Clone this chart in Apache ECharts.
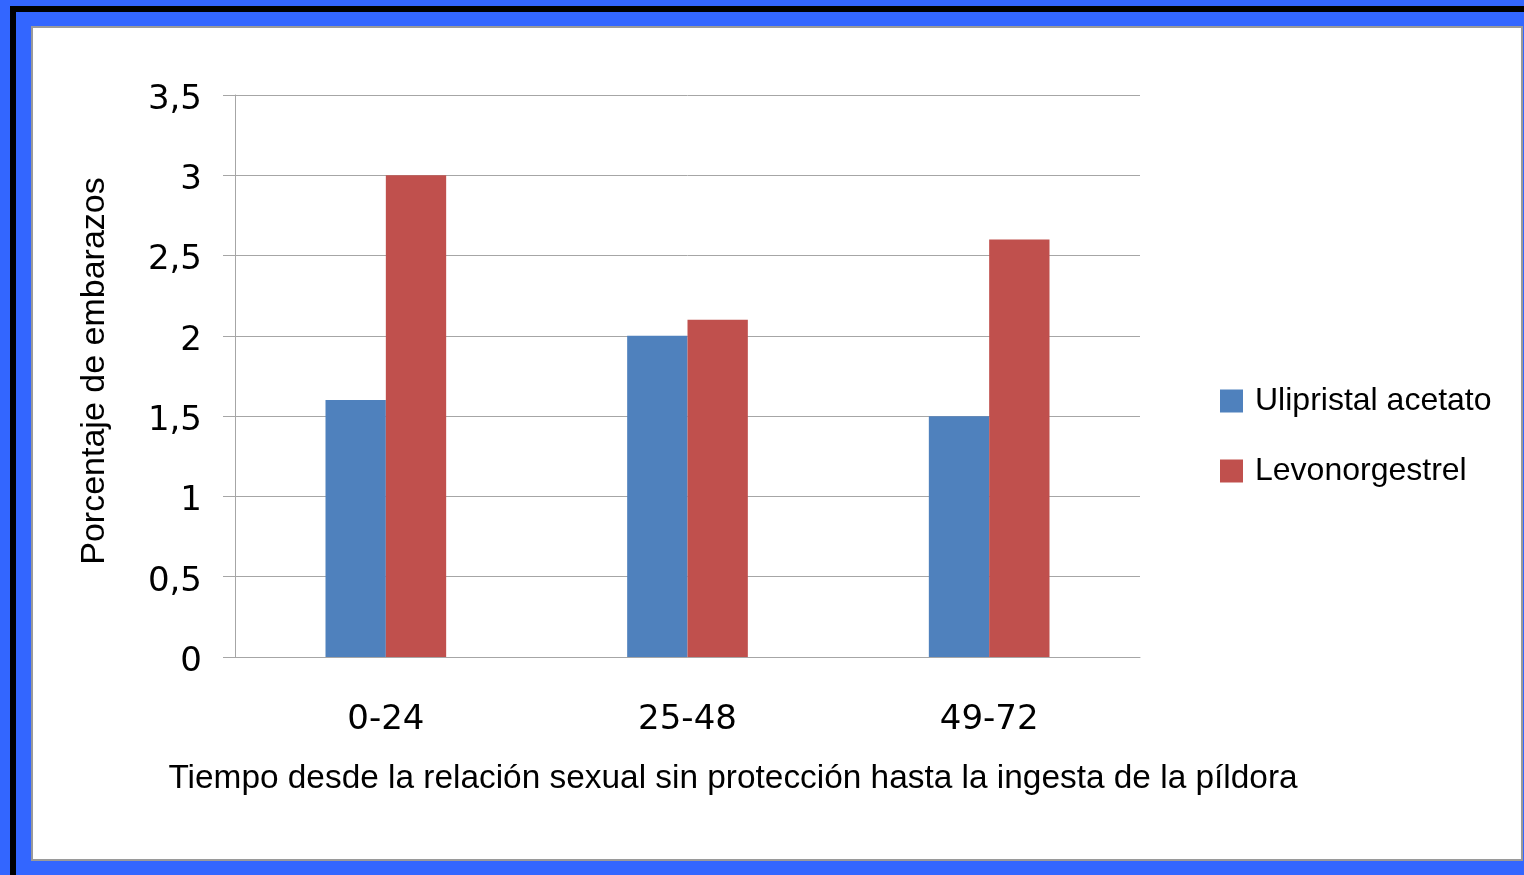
<!DOCTYPE html>
<html>
<head>
<meta charset="utf-8">
<script src="https://cdn.jsdelivr.net/npm/echarts@6/dist/echarts.min.js"></script>
<style>
html,body{margin:0;padding:0;background:#3366FF;}
#c{width:1524px;height:875px;}
</style>
</head>
<body>
<div id="c"></div>
<script>
const categories = ['0-24', '25-48', '49-72'];
const seriesNames = ['Ulipristal acetato', 'Levonorgestrel'];
const ulipristal = [1.6, 2.0, 1.5];
const levonorgestrel = [3.0, 2.1, 2.6];
const yTicks = [0, 0.5, 1, 1.5, 2, 2.5, 3, 3.5];
const xTitle = 'Tiempo desde la relación sexual sin protección hasta la ingesta de la píldora';
const yTitle = 'Porcentaje de embarazos';

const chart = echarts.init(document.getElementById('c'), null, {renderer: 'canvas'});
const grey = '#A6A6A6';
chart.setOption({
  backgroundColor: '#3366FF',
  animation: false,
  graphic: [
    {type: 'rect', z: -10, shape: {x: 10, y: 6, width: 1514, height: 6}, style: {fill: '#000'}, silent: true},
    {type: 'rect', z: -10, shape: {x: 10, y: 6, width: 6, height: 869}, style: {fill: '#000'}, silent: true},
    {type: 'rect', z: -9, shape: {x: 32, y: 27, width: 1490, height: 833}, style: {fill: '#fff', stroke: '#9a9a9a', lineWidth: 2}, silent: true},
    {type: 'text', z: 10, x: 733, y: 779, style: {text: xTitle, font: '33.4px "Liberation Sans", Arial, sans-serif', fill: '#000', align: 'center', verticalAlign: 'middle'}},
    {type: 'text', z: 10, x: 95, y: 371, rotation: Math.PI / 2, style: {text: yTitle, font: '34px "Liberation Sans", Arial, sans-serif', fill: '#000', align: 'center', verticalAlign: 'middle'}}
  ],
  grid: {left: 235, right: 384, top: 95, bottom: 218, containLabel: false},
  legend: {
    orient: 'vertical', left: 1215, top: 380,
    itemWidth: 23, itemHeight: 23, itemGap: 38,
    icon: 'rect',
    textStyle: {fontFamily: '"Liberation Sans", Arial, sans-serif', fontSize: 32, color: '#000', padding: [0, 0, 0, 7]},
    data: seriesNames
  },
  xAxis: {
    type: 'category', data: categories,
    axisLine: {show: true, lineStyle: {color: grey, width: 1}},
    axisTick: {show: false},
    axisLabel: {margin: 46, fontFamily: '"DejaVu Sans", sans-serif', fontSize: 34, color: '#000'}
  },
  yAxis: {
    type: 'value', min: 0, max: 3.5, interval: 0.5,
    axisLine: {show: true, lineStyle: {color: grey, width: 1}},
    axisTick: {show: true, length: 12, lineStyle: {color: grey}},
    splitLine: {show: true, lineStyle: {color: grey, width: 1}},
    axisLabel: {
      margin: 33, color: '#000',
      formatter: v => yTicks.indexOf(v) >= 0 ? '{a|' + String(v).replace('.', ',') + '}' : '',
      rich: {a: {fontFamily: '"DejaVu Sans", sans-serif', fontSize: 34, color: '#000', padding: [10, 0, 0, 0]}}
    }
  },
  series: [
    {name: seriesNames[0], type: 'bar', data: ulipristal, barGap: '0%', barCategoryGap: '60%', itemStyle: {color: '#4F81BD'}},
    {name: seriesNames[1], type: 'bar', data: levonorgestrel, barGap: '0%', barCategoryGap: '60%', itemStyle: {color: '#C0504D'}}
  ]
});
</script>
</body>
</html>
